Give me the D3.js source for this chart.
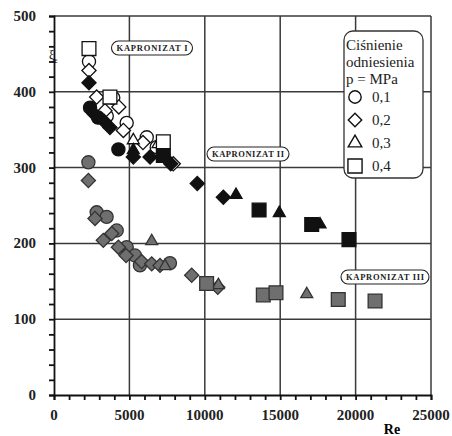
<!DOCTYPE html>
<html>
<head>
<meta charset="utf-8">
<script src="https://cdn.jsdelivr.net/npm/d3@7"></script>
<style>
  body { margin: 0; background: #fff; }
  svg { display: block; }
</style>
</head>
<body>
<div id="chart"></div>
<script>
// Re vs xi_e, three materials, four reference pressures
var pressures = ['0,1', '0,2', '0,3', '0,4'];
var shapes = ['circle', 'diamond', 'triangle', 'square'];

// Kapronizat I (white markers)
var k1_p1 = [[2320, 440], [3930, 392], [3500, 368], [4820, 359], [6150, 340], [6810, 327]];
var k1_p2 = [[2320, 428], [2830, 393], [3380, 375], [4300, 380], [4600, 349], [5900, 333], [7910, 305]];
var k1_p3 = [[5260, 336], [6900, 331]];
var k1_p4 = [[2320, 457], [3710, 393], [7250, 334]];

// Kapronizat II (black markers)
var k2_p1 = [[2390, 379], [2920, 366], [4270, 324]];
var k2_p2 = [[2320, 412], [2650, 371], [3320, 361], [3710, 353], [5260, 314], [6370, 314], [7740, 305], [9500, 279], [11230, 261]];
var k2_p3 = [[5260, 323], [12070, 264], [14940, 240], [17640, 225]];
var k2_p4 = [[7250, 316], [13600, 244], [17090, 225], [19560, 205]];

// Kapronizat III (grey markers)
var k3_p1 = [[2280, 307], [2830, 241], [3490, 235], [4160, 217], [4820, 195], [5370, 184], [5700, 171], [7690, 174]];
var k3_p2 = [[2280, 283], [2720, 233], [3270, 204], [3830, 213], [4270, 195], [4780, 184], [5810, 176], [6480, 173], [7030, 171], [9130, 158], [10860, 142]];
var k3_p3 = [[6480, 203], [7360, 170], [10900, 145], [16760, 133]];
var k3_p4 = [[10120, 147], [13880, 132], [14720, 135], [18850, 126], [21290, 124]];

var xTicks = [0, 5000, 10000, 15000, 20000, 25000];
var yTicks = [0, 100, 200, 300, 400, 500];
var legendTitle = ['Ciśnienie', 'odniesienia', 'p = MPa'];
var groupLabels = ['KAPRONIZAT I', 'KAPRONIZAT II', 'KAPRONIZAT III'];

var groups = [
    {fill: '#ffffff', stroke: '#111', series: [k1_p1, k1_p2, k1_p3, k1_p4]},
    {fill: '#111111', stroke: '#111', series: [k2_p1, k2_p2, k2_p3, k2_p4]},
    {fill: '#6f6f6f', stroke: '#333', series: [k3_p1, k3_p2, k3_p3, k3_p4]}
];

var W = 452, H = 436;
var x = d3.scaleLinear().domain([0, 25000]).range([54, 431]);
var y = d3.scaleLinear().domain([0, 500]).range([395, 16]);

var svg = d3.select('#chart').append('svg')
    .attr('width', W)
    .attr('height', H);

var numFont = 'Liberation Serif, Times New Roman, serif';

// grid
svg.append('g').selectAll('line')
    .data(xTicks.slice(1))
    .enter().append('line')
    .attr('x1', function (d) { return x(d); })
    .attr('x2', function (d) { return x(d); })
    .attr('y1', y(0)).attr('y2', y(500))
    .attr('stroke', '#3a3a3a').attr('stroke-width', 1.5);
svg.append('g').selectAll('line')
    .data(yTicks.slice(1))
    .enter().append('line')
    .attr('y1', function (d) { return y(d); })
    .attr('y2', function (d) { return y(d); })
    .attr('x1', x(0)).attr('x2', x(25000))
    .attr('stroke', '#3a3a3a').attr('stroke-width', 1.5);

// axes
var yAxis = d3.axisLeft(y).tickValues(d3.range(0, 501, 20)).tickSize(5).tickFormat('');
var xAxis = d3.axisBottom(x).tickValues(d3.range(0, 25001, 1000)).tickSize(5).tickFormat('');
svg.append('g').attr('transform', 'translate(' + x(0) + ',0)').call(yAxis)
    .call(function (g) { g.selectAll('line,path').attr('stroke', '#111').attr('stroke-width', 1.8); });
svg.append('g').attr('transform', 'translate(0,' + y(0) + ')').call(xAxis)
    .call(function (g) { g.selectAll('line,path').attr('stroke', '#111').attr('stroke-width', 1.8); });

svg.append('g').selectAll('text')
    .data(yTicks)
    .enter().append('text')
    .attr('x', 36)
    .attr('y', function (d) { return y(d) + 5; })
    .attr('text-anchor', 'end')
    .attr('font-family', numFont).attr('font-weight', 'bold').attr('font-size', 15)
    .attr('fill', '#222')
    .text(function (d) { return d; });
svg.append('g').selectAll('text')
    .data(xTicks)
    .enter().append('text')
    .attr('x', function (d) { return x(d); })
    .attr('y', 420)
    .attr('text-anchor', 'middle')
    .attr('font-family', numFont).attr('font-weight', 'bold').attr('font-size', 15)
    .attr('fill', '#222')
    .text(function (d) { return d; });

svg.append('text')
    .attr('x', 392).attr('y', 434)
    .attr('text-anchor', 'middle')
    .attr('font-family', numFont).attr('font-weight', 'bold').attr('font-size', 14)
    .text('Re');

var yl = svg.append('text').attr('x', 49).attr('y', 59)
    .attr('font-family', numFont).attr('font-size', 12);
yl.append('tspan').text('ξ');
yl.append('tspan').attr('dy', 4).attr('font-size', 8).text('ε');

// markers
function markerPath(shape) {
    if (shape === 'circle') return d3.symbol(d3.symbolCircle, 135)();
    if (shape === 'triangle') return d3.symbol(d3.symbolTriangle, 62)();
    if (shape === 'square') return d3.symbol(d3.symbolSquare, 190)();
    return d3.symbol(d3.symbolSquare, 100)();
}

groups.forEach(function (grp) {
    grp.series.forEach(function (pts, i) {
        var shape = shapes[i];
        svg.append('g').selectAll('path')
            .data(pts)
            .enter().append('path')
            .attr('d', markerPath(shape))
            .attr('transform', function (d) {
                var t = 'translate(' + x(d[0]) + ',' + y(d[1]) + ')';
                return shape === 'diamond' ? t + ' rotate(45)' : t;
            })
            .attr('fill', grp.fill)
            .attr('stroke', grp.stroke)
            .attr('stroke-width', 1.3);
    });
});

// group labels in pills
var pills = [
    {text: groupLabels[0], cx: 152, cy: 48, w: 81},
    {text: groupLabels[1], cx: 248, cy: 154, w: 82},
    {text: groupLabels[2], cx: 385, cy: 277, w: 88}
];
pills.forEach(function (p) {
    svg.append('rect')
        .attr('x', p.cx - p.w / 2).attr('y', p.cy - 7)
        .attr('width', p.w).attr('height', 14)
        .attr('rx', 7).attr('ry', 7)
        .attr('fill', '#fff').attr('stroke', '#222').attr('stroke-width', 1.1);
    svg.append('text')
        .attr('x', p.cx).attr('y', p.cy + 3)
        .attr('text-anchor', 'middle')
        .attr('font-family', numFont).attr('font-weight', 'bold').attr('font-size', 8.5)
        .attr('textLength', p.w - 10).attr('lengthAdjust', 'spacing')
        .attr('fill', '#222')
        .text(p.text);
});

// legend
var lg = svg.append('g');
lg.append('rect')
    .attr('x', 344).attr('y', 31).attr('width', 79).attr('height', 147)
    .attr('rx', 9).attr('ry', 9)
    .attr('fill', '#fff').attr('stroke', '#333').attr('stroke-width', 1.3);
lg.selectAll('text.title')
    .data(legendTitle)
    .enter().append('text')
    .attr('x', 346)
    .attr('y', function (d, i) { return 50 + i * 17; })
    .attr('font-family', numFont).attr('font-size', 15)
    .attr('fill', '#222')
    .text(function (d) { return d; });
pressures.forEach(function (p, i) {
    var cy = 97 + i * 23;
    var shape = shapes[i];
    var path = shape === 'circle' ? d3.symbol(d3.symbolCircle, 120)()
        : shape === 'triangle' ? d3.symbol(d3.symbolTriangle, 80)()
        : shape === 'square' ? d3.symbol(d3.symbolSquare, 200)()
        : d3.symbol(d3.symbolSquare, 90)();
    lg.append('path')
        .attr('d', path)
        .attr('transform', 'translate(355,' + cy + ')' + (shape === 'diamond' ? ' rotate(45)' : ''))
        .attr('fill', '#fff').attr('stroke', '#111').attr('stroke-width', 1.4);
    lg.append('text')
        .attr('x', 372).attr('y', cy + 5)
        .attr('font-family', numFont).attr('font-size', 15)
        .attr('fill', '#222')
        .text(p);
});
</script>
</body>
</html>
